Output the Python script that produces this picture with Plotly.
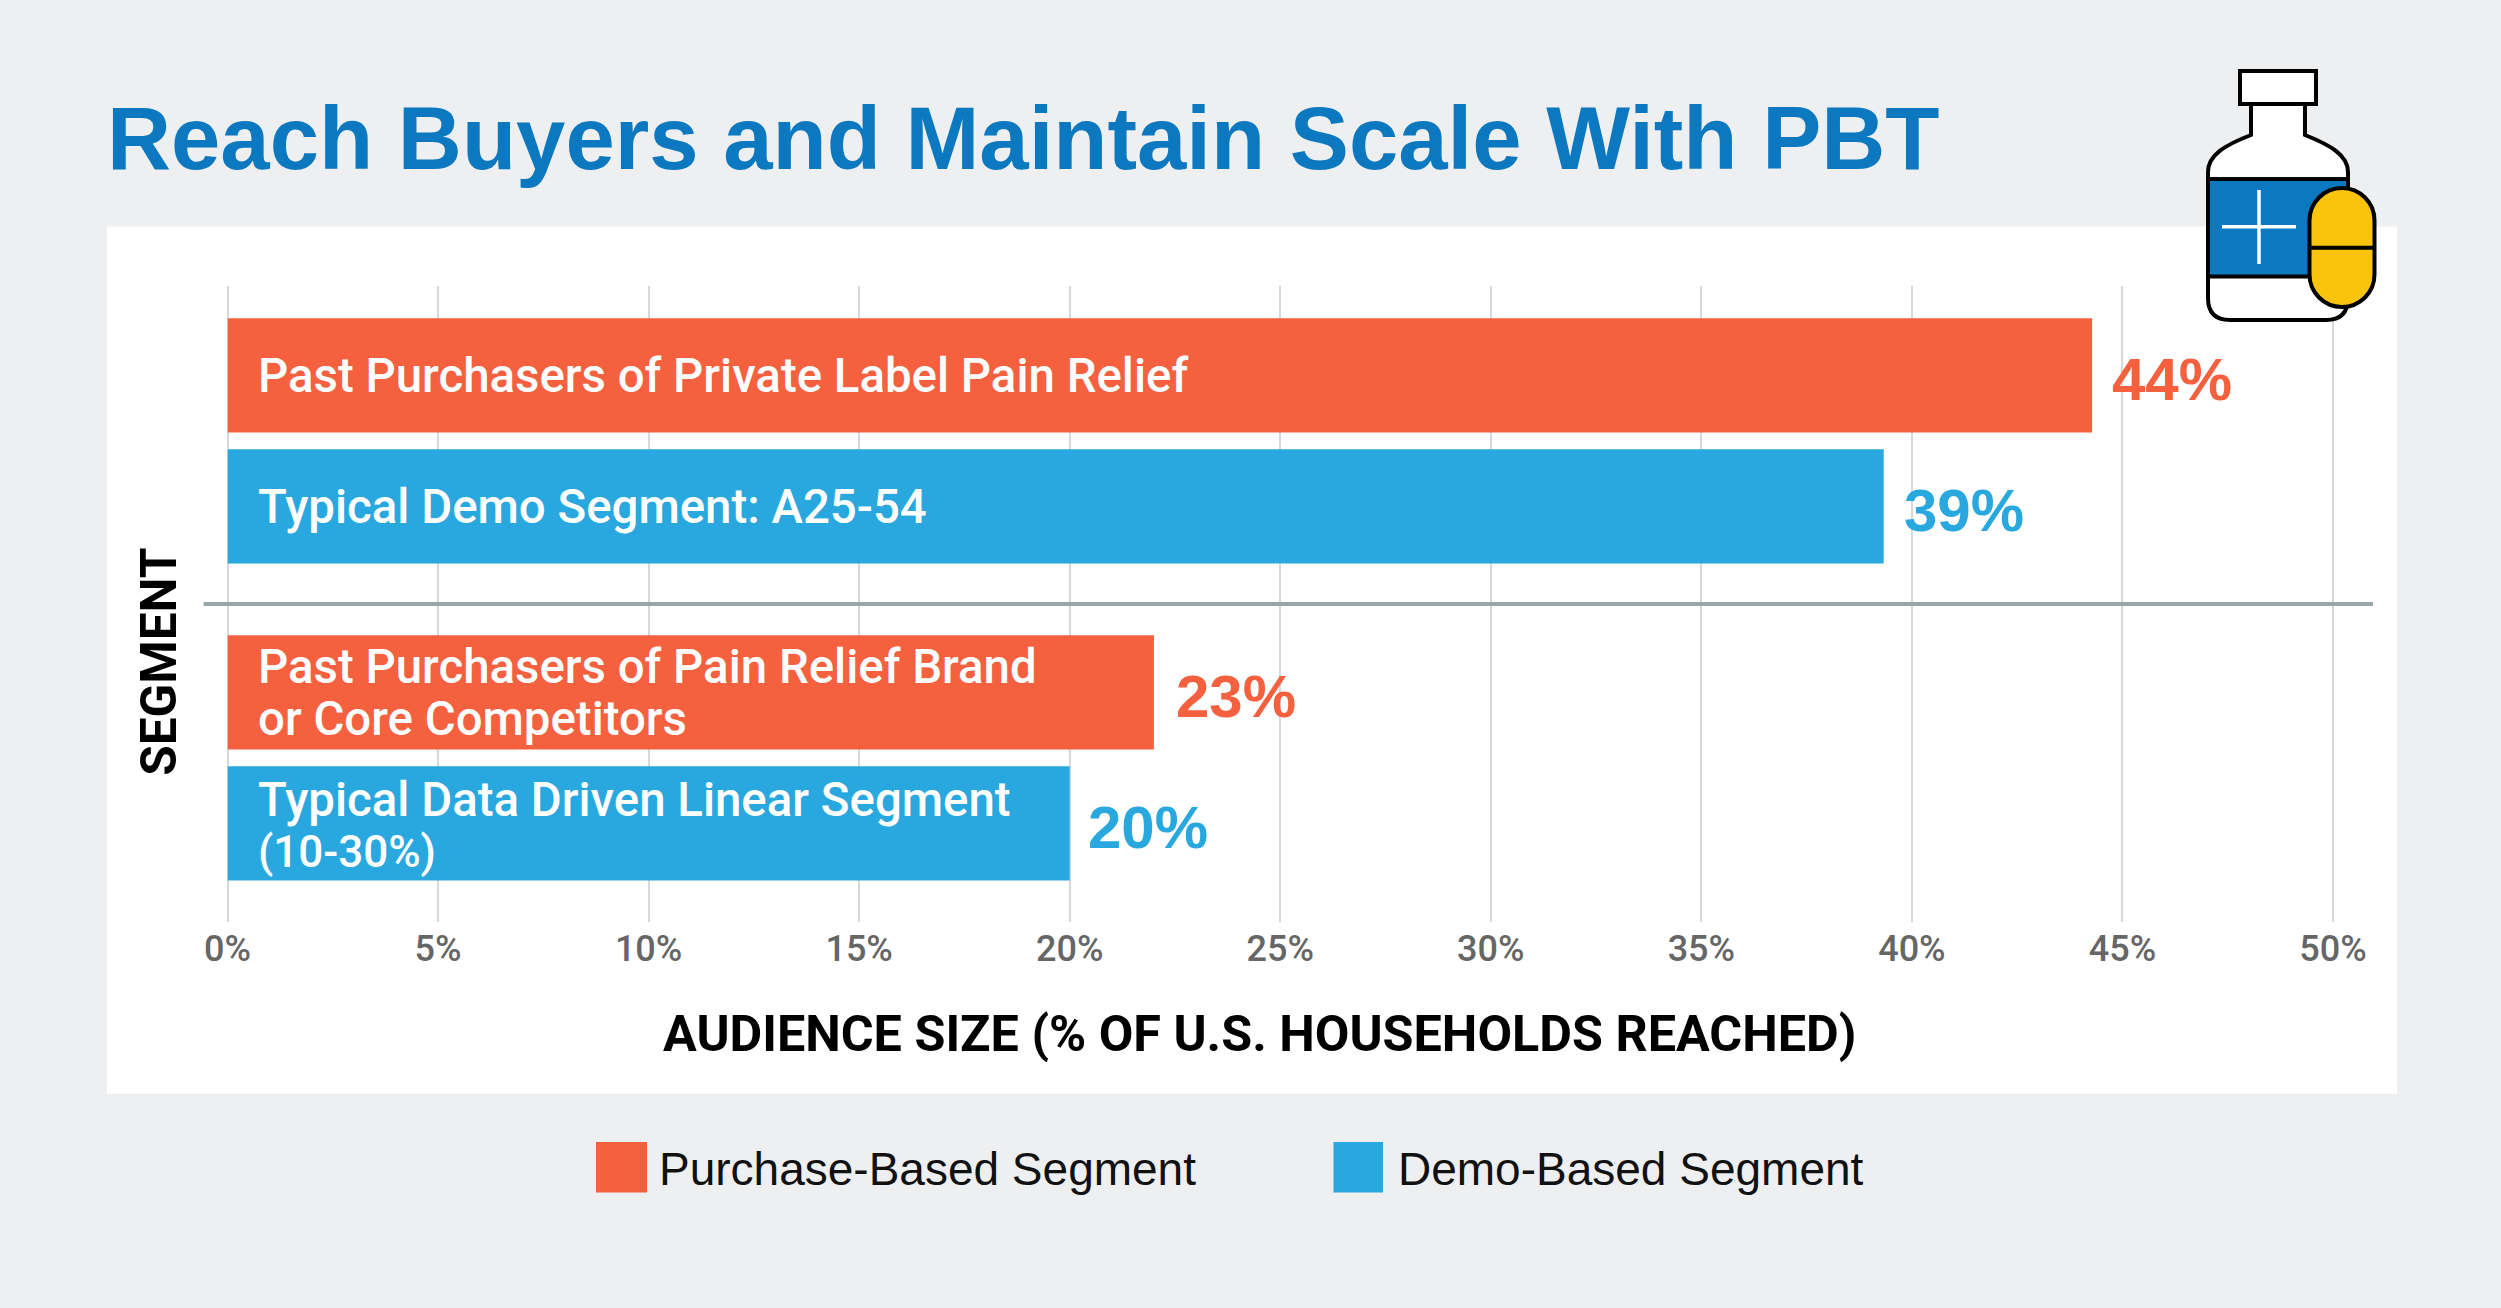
import plotly.graph_objects as go

# ---- data ----
TITLE = "Reach Buyers and Maintain Scale With PBT"
purchase_name = "Purchase-Based Segment"
demo_name = "Demo-Based Segment"
purchase_values = [44.28, 22.0]
demo_values = [39.33, 20.0]
purchase_labels = ["44%", "23%"]
demo_labels = ["39%", "20%"]
purchase_lines = [["Past Purchasers of Private Label Pain Relief"],
                  ["Past Purchasers of Pain Relief Brand", "or Core Competitors"]]
demo_lines = [["Typical Demo Segment: A25-54"],
              ["Typical Data Driven Linear Segment", "(10-30%)"]]
tick_values = [0, 5, 10, 15, 20, 25, 30, 35, 40, 45, 50]
tick_labels = ["0%", "5%", "10%", "15%", "20%", "25%", "30%", "35%", "40%", "45%", "50%"]
x_title = "AUDIENCE SIZE (% OF U.S. HOUSEHOLDS REACHED)"
y_title = "SEGMENT"

# ---- layout constants ----
W, H = 2501, 1308
ORANGE, BLUE, NAVY, YELLOW = "#F5603F", "#29A8E0", "#0C78BF", "#FAC40C"
ROBOTO = "Roboto, Arial, sans-serif"
REG = "Liberation Sans, Arial, sans-serif"
purchase_pos = [0, 2.42]
demo_pos = [1, 3.42]
purchase_gaps = [18, 20]
demo_gaps = [18, 16]
BAR_W = 0.873
SEP_POS = 1.745

def px(x): return x / W
def py(y): return 1 - y / H
def P(cmds):
    out = []
    for c in cmds:
        if isinstance(c, str):
            out.append(c)
        else:
            out.append(f"{px(c[0]):.6f},{py(c[1]):.6f}")
    return " ".join(out)

fig = go.Figure()
fig.add_bar(name=purchase_name, y=purchase_pos, x=purchase_values, orientation="h",
            width=BAR_W, marker=dict(color=ORANGE, line_width=0), showlegend=False)
fig.add_bar(name=demo_name, y=demo_pos, x=demo_values, orientation="h",
            width=BAR_W, marker=dict(color=BLUE, line_width=0), showlegend=False)

ann = []
def inside(pos, lines, base=0):
    shifts = [0] if len(lines) == 1 else [26, -26]
    for s, t in zip(shifts, lines):
        size = 44 if t.startswith("(") else 47.4
        ann.append(dict(x=0, y=pos, xref="x", yref="y", text=t, showarrow=False,
                        xanchor="left", yanchor="middle", xshift=28, yshift=s + base - 1,
                        font=dict(family=ROBOTO, size=size, color="white", weight=500)))
def outside(pos, val, label, color, gap):
    ann.append(dict(x=val, y=pos, xref="x", yref="y", text=f"<b>{label}</b>", showarrow=False,
                    xanchor="left", yanchor="middle", xshift=gap, yshift=-4,
                    font=dict(family=REG, size=60, color=color)))
for p, l, v, t, g in zip(purchase_pos, purchase_lines, purchase_values, purchase_labels, purchase_gaps):
    inside(p, l); outside(p, v, t, ORANGE, g)
for p, l, v, t, g in zip(demo_pos, demo_lines, demo_values, demo_labels, demo_gaps):
    inside(p, l, -2 if len(l) > 1 else 0); outside(p, v, t, BLUE, g)

ann.append(dict(x=px(1259), y=py(1033), xref="paper", yref="paper", text=f"<b>{x_title}</b>",
                showarrow=False, xanchor="center", yanchor="middle",
                font=dict(family=ROBOTO, size=50.3, color="black")))
ann.append(dict(x=px(158.7), y=py(662), xref="paper", yref="paper", text=f"<b>{y_title}</b>",
                showarrow=False, textangle=-90, xanchor="center", yanchor="middle",
                font=dict(family=ROBOTO, size=49.5, color="black")))
ann.append(dict(x=px(657), y=py(1169), xref="paper", yref="paper", text=purchase_name,
                showarrow=False, xanchor="left", yanchor="middle",
                font=dict(family=REG, size=46, color="#111")))
ann.append(dict(x=px(1396), y=py(1169), xref="paper", yref="paper", text=demo_name,
                showarrow=False, xanchor="left", yanchor="middle",
                font=dict(family=REG, size=46, color="#111")))

def rect(x0, y0, x1, y1, fill, lw=0, lc="black", layer="above"):
    return dict(type="rect", xref="paper", yref="paper", x0=px(x0), x1=px(x1), y0=py(y0), y1=py(y1),
                fillcolor=fill, line=dict(width=lw, color=lc), layer=layer)
def seg(x0, y0, x1, y1, color, lw):
    return dict(type="line", xref="paper", yref="paper", x0=px(x0), x1=px(x1), y0=py(y0), y1=py(y1),
                line=dict(color=color, width=lw))

shapes = [
    rect(107, 226.5, 2397, 1094, "white", layer="below"),
    dict(type="line", xref="paper", yref="y", x0=px(203.6), x1=px(2373), y0=SEP_POS, y1=SEP_POS,
         line=dict(color="#9AA5A9", width=4)),
    rect(596, 1142, 647, 1192.5, ORANGE),
    rect(1333.5, 1142, 1383, 1192.5, BLUE),
    # icon: cap, bottle, label, cross, pill
    rect(2240, 71, 2316, 104, "white", 4),
    dict(type="path", xref="paper", yref="paper", fillcolor="white", line=dict(color="black", width=4),
         path=P(["M", (2251, 104), "L", (2251, 135),
                 "C", (2225, 145), (2208, 155), (2208, 172),
                 "L", (2208, 298), "Q", (2208, 320), (2230, 320),
                 "L", (2326, 320), "Q", (2348, 320), (2348, 298),
                 "L", (2348, 172), "C", (2348, 155), (2330, 145), (2305, 135),
                 "L", (2305, 104), "Z"])),
    rect(2208, 179, 2348, 276.5, NAVY, 4),
    seg(2222, 226.7, 2296, 226.7, "white", 3.5),
    seg(2259, 190, 2259, 264, "white", 3.5),
]
k = 0.5523 * 32.5
xl, xr, yt, yb = 2309.5, 2374.5, 188, 307
xm = (xl + xr) / 2
shapes.append(dict(type="path", xref="paper", yref="paper", fillcolor=YELLOW,
                   line=dict(color="black", width=4),
                   path=P(["M", (xl, yt + 32.5), "C", (xl, yt + 32.5 - k), (xm - k, yt), (xm, yt),
                           "C", (xm + k, yt), (xr, yt + 32.5 - k), (xr, yt + 32.5),
                           "L", (xr, yb - 32.5),
                           "C", (xr, yb - 32.5 + k), (xm + k, yb), (xm, yb),
                           "C", (xm - k, yb), (xl, yb - 32.5 + k), (xl, yb - 32.5), "Z"])))
shapes.append(seg(xl, 247.7, xr, 247.7, "black", 4))

fig.update_layout(
    width=W, height=H, autosize=False, margin=dict(l=0, r=0, t=0, b=0),
    paper_bgcolor="#EEEFF1", plot_bgcolor="rgba(0,0,0,0)", barmode="overlay",
    title=dict(text=f"<b>{TITLE}</b>", x=px(107), y=py(138), xanchor="left", yanchor="middle",
               xref="paper", yref="paper", font=dict(family=REG, size=88.7, color=NAVY)),
    xaxis=dict(domain=[px(227.5), px(2373)], range=[0, 50.95], tickmode="array", automargin=False,
               tickvals=tick_values, ticktext=tick_labels, showgrid=True, gridcolor="#D5D8DC", gridwidth=2,
               zeroline=True, zerolinecolor="#D5D8DC", zerolinewidth=2, showline=False, ticks="",
               ticklabelstandoff=2,
               tickfont=dict(family=ROBOTO, size=36, color="#666666", weight=500)),
    yaxis=dict(domain=[py(922), py(286)], range=[4.173, -0.682], showgrid=False, zeroline=False,
               showticklabels=False, ticks="", automargin=False),
    annotations=ann, shapes=shapes,
)
fig.write_html("out.html", config={"displayModeBar": False},
               post_script="document.body.style.margin='0';document.documentElement.style.overflow='hidden';")
